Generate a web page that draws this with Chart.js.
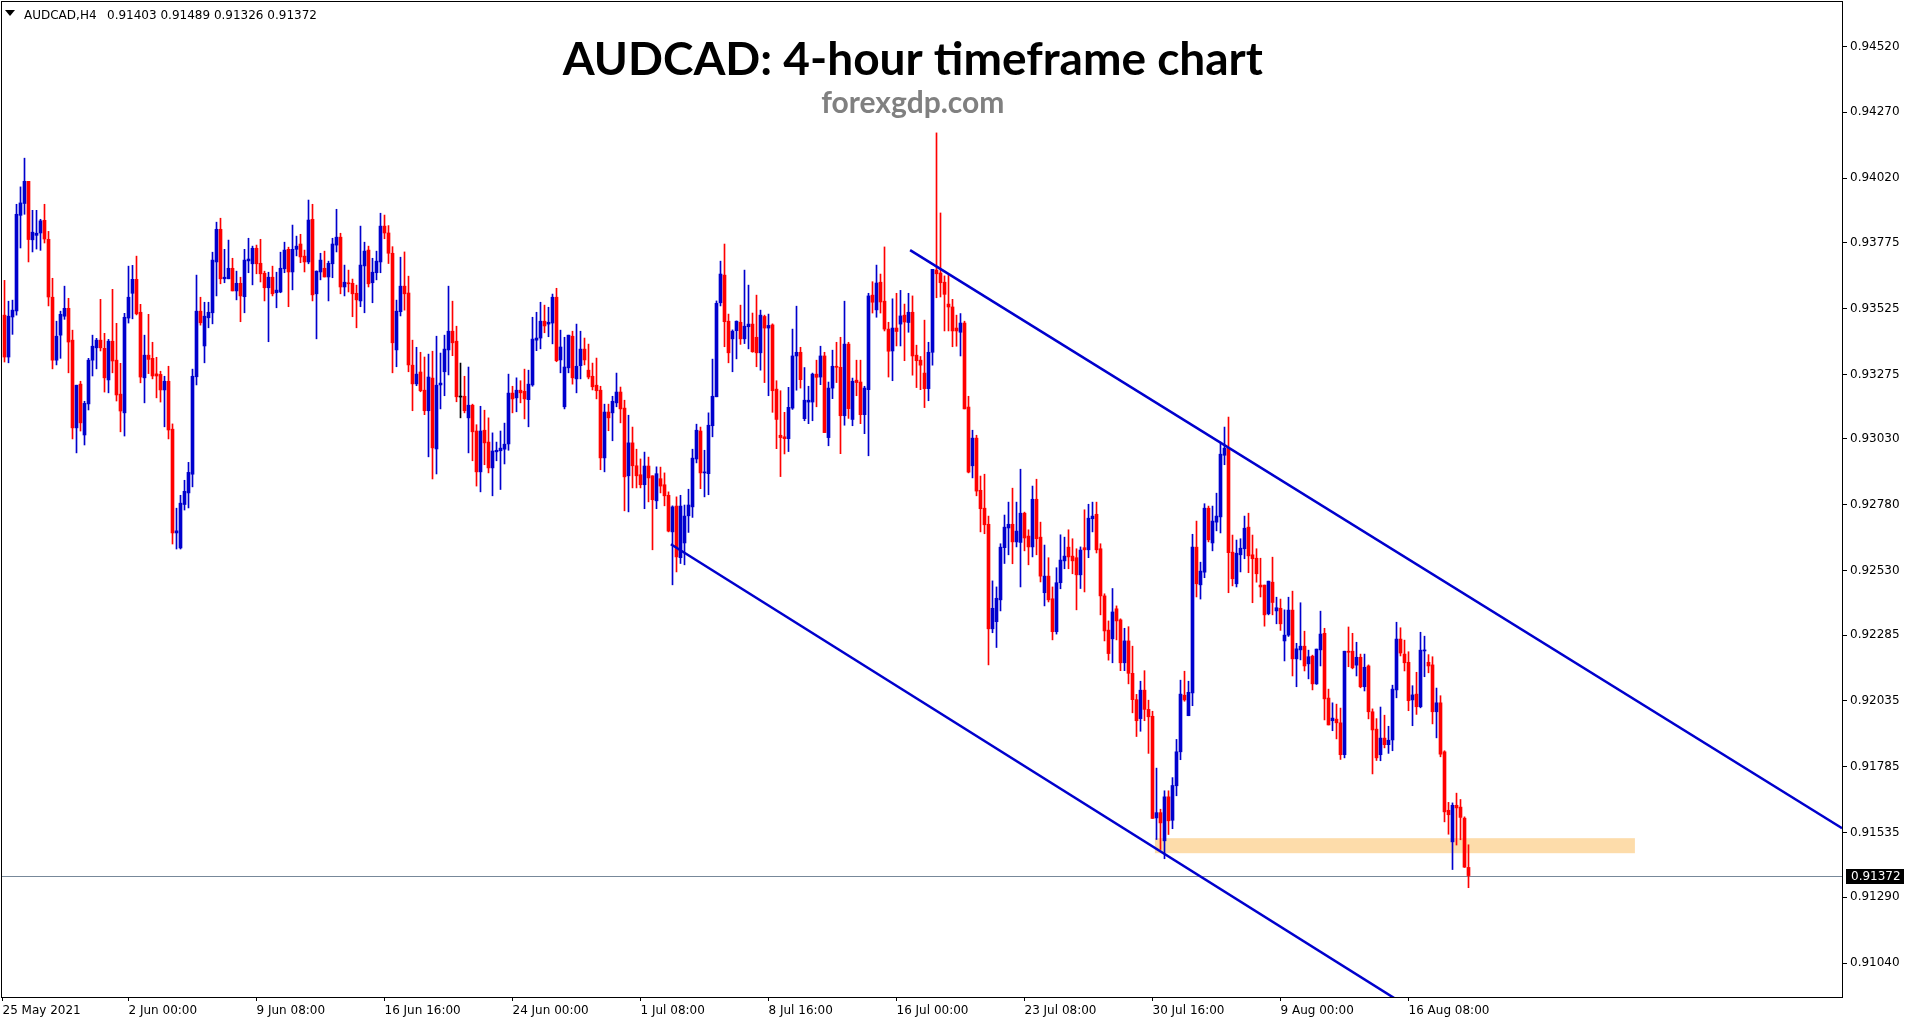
<!DOCTYPE html>
<html>
<head>
<meta charset="utf-8">
<title>AUDCAD H4</title>
<script src="https://cdn.jsdelivr.net/npm/chart.js@4.4.1/dist/chart.umd.min.js"></script>
<style>
  html, body { margin: 0; padding: 0; background: #fff; }
  canvas { display: block; }
</style>
</head>
<body>
<canvas id="chart" width="1913" height="1023"></canvas>
<script>
const symbolName = 'AUDCAD,H4';
const chartTitle = 'AUDCAD: 4-hour timeframe chart';
const chartSubtitle = 'forexgdp.com';

const opens = [
  0.93500,0.93341,0.93493,0.93516,0.93879,0.93924,0.94008,0.93786,0.93803,0.93812,
  0.93860,0.93788,0.93568,0.93329,0.93424,0.93496,0.93526,0.93405,0.93072,0.93238,
  0.93045,0.93163,0.93329,0.93376,0.93405,0.93374,0.93254,0.93401,0.93329,0.93200,
  0.93129,0.93489,0.93583,0.93636,0.93511,0.93262,0.93348,0.93336,0.93277,0.93275,
  0.93216,0.93249,0.93067,0.92673,0.92616,0.92781,0.92825,0.92896,0.93266,0.93515,
  0.93383,0.93490,0.93509,0.93702,0.93826,0.93638,0.93638,0.93678,0.93592,0.93621,
  0.93570,0.93706,0.93695,0.93754,0.93697,0.93659,0.93604,0.93644,0.93585,0.93588,
  0.93676,0.93750,0.93664,0.93750,0.93770,0.93724,0.93702,0.93864,0.93581,0.93664,
  0.93678,0.93645,0.93695,0.93766,0.93796,0.93607,0.93621,0.93621,0.93583,0.93554,
  0.93687,0.93747,0.93623,0.93661,0.93702,0.93838,0.93812,0.93735,0.93368,0.93513,
  0.93610,0.93584,0.93310,0.93239,0.93284,0.93215,0.93137,0.93261,0.92992,0.93235,
  0.93285,0.93368,0.93439,0.93401,0.93189,0.93192,0.93110,0.93158,0.93060,0.92905,
  0.93063,0.93018,0.92920,0.92981,0.92985,0.92991,0.93011,0.93204,0.93186,0.93215,
  0.93211,0.93179,0.93235,0.93405,0.93413,0.93477,0.93466,0.93470,0.93568,0.93330,
  0.93152,0.93300,0.93420,0.93258,0.93308,0.93371,0.93291,0.93268,0.93234,0.93215,
  0.92958,0.93132,0.93129,0.93167,0.93208,0.93147,0.92890,0.93015,0.92928,0.92894,
  0.92856,0.92927,0.92890,0.92795,0.92879,0.92856,0.92816,0.92677,0.92775,0.92579,
  0.92635,0.92738,0.92772,0.92954,0.93060,0.92901,0.92898,0.93080,0.93190,0.93547,
  0.93652,0.93477,0.93410,0.93441,0.93473,0.93410,0.93456,0.93466,0.93416,0.93357,
  0.93495,0.93451,0.93463,0.93219,0.93044,0.93038,0.93031,0.93147,0.93345,0.93359,
  0.93107,0.93170,0.93170,0.93276,0.93265,0.93345,0.93035,0.93223,0.93306,0.93302,
  0.93118,0.93390,0.93104,0.93253,0.93246,0.93122,0.93217,0.93576,0.93520,0.93625,
  0.93553,0.93447,0.93364,0.93451,0.93466,0.93500,0.93472,0.93511,0.93348,0.93329,
  0.93280,0.93221,0.93359,0.93671,0.93660,0.93625,0.93542,0.93531,0.93451,0.93435,
  0.93470,0.93151,0.92928,0.93033,0.92835,0.92767,0.92706,0.92309,0.92336,0.92419,
  0.92617,0.92692,0.92706,0.92639,0.92637,0.92748,0.92661,0.92620,0.92801,0.92657,
  0.92446,0.92509,0.92423,0.92298,0.92484,0.92567,0.92619,0.92585,0.92579,0.92514,
  0.92617,0.92609,0.92727,0.92744,0.92613,0.92434,0.92304,0.92271,0.92385,0.92343,
  0.92180,0.92263,0.92140,0.92040,0.91968,0.92076,0.92003,0.91977,0.91591,0.91611,
  0.91504,0.91671,0.91582,0.91713,0.91842,0.92057,0.91979,0.92066,0.92619,0.92476,
  0.92524,0.92767,0.92635,0.92714,0.92734,0.92968,0.92995,0.92600,0.92480,0.92590,
  0.92613,0.92695,0.92590,0.92577,0.92475,0.92475,0.92366,0.92486,0.92377,0.92387,
  0.92263,0.92285,0.92380,0.92195,0.92229,0.92243,0.92176,0.92205,0.92100,0.92229,
  0.92292,0.92046,0.91960,0.91966,0.91952,0.91831,0.92224,0.92224,0.92171,0.92201,
  0.92089,0.92168,0.91994,0.91928,0.91831,0.91894,0.91869,0.91887,0.92077,0.92270,
  0.92213,0.92182,0.92039,0.92061,0.92013,0.92225,0.92182,0.92172,0.91994,0.92028,
  0.91842,0.91620,0.91500,0.91639,0.91632,0.91590,0.91403
];
const highs = [
  0.93632,0.93553,0.93557,0.93921,0.93987,0.94096,0.94008,0.93898,0.93898,0.93864,
  0.93921,0.93818,0.93640,0.93477,0.93515,0.93610,0.93564,0.93443,0.93234,0.93249,
  0.93173,0.93336,0.93424,0.93412,0.93560,0.93431,0.93408,0.93598,0.93469,0.93317,
  0.93507,0.93686,0.93689,0.93724,0.93541,0.93424,0.93503,0.93397,0.93340,0.93287,
  0.93268,0.93306,0.93087,0.92767,0.92816,0.92873,0.92941,0.93295,0.93652,0.93568,
  0.93549,0.93549,0.93739,0.93853,0.93868,0.93750,0.93785,0.93716,0.93667,0.93644,
  0.93750,0.93792,0.93762,0.93766,0.93788,0.93667,0.93663,0.93686,0.93663,0.93739,
  0.93777,0.93758,0.93842,0.93800,0.93807,0.93747,0.93937,0.93921,0.93668,0.93735,
  0.93743,0.93705,0.93792,0.93902,0.93811,0.93690,0.93671,0.93637,0.93614,0.93838,
  0.93777,0.93762,0.93716,0.93743,0.93887,0.93880,0.93840,0.93760,0.93557,0.93720,
  0.93740,0.93648,0.93405,0.93378,0.93359,0.93341,0.93352,0.93363,0.93420,0.93356,
  0.93424,0.93610,0.93553,0.93458,0.93318,0.93268,0.93303,0.93162,0.93084,0.93154,
  0.93139,0.93110,0.93053,0.93018,0.93060,0.93090,0.93276,0.93230,0.93262,0.93251,
  0.93295,0.93291,0.93492,0.93511,0.93549,0.93538,0.93530,0.93580,0.93602,0.93443,
  0.93416,0.93424,0.93439,0.93466,0.93439,0.93413,0.93390,0.93318,0.93337,0.93230,
  0.93162,0.93162,0.93192,0.93280,0.93227,0.93177,0.93120,0.93075,0.92991,0.92954,
  0.92980,0.92961,0.92890,0.92924,0.92923,0.92901,0.92829,0.92776,0.92810,0.92816,
  0.92779,0.92839,0.92991,0.93086,0.93075,0.92987,0.93129,0.93333,0.93554,0.93705,
  0.93770,0.93504,0.93444,0.93478,0.93538,0.93671,0.93614,0.93508,0.93576,0.93519,
  0.93500,0.93504,0.93467,0.93251,0.93213,0.93131,0.93226,0.93447,0.93534,0.93378,
  0.93301,0.93230,0.93280,0.93329,0.93382,0.93359,0.93246,0.93367,0.93397,0.93416,
  0.93553,0.93397,0.93261,0.93329,0.93329,0.93230,0.93583,0.93627,0.93690,0.93656,
  0.93759,0.93473,0.93562,0.93583,0.93594,0.93542,0.93583,0.93573,0.93386,0.93343,
  0.93481,0.93397,0.93674,0.94192,0.93888,0.93649,0.93651,0.93560,0.93500,0.93506,
  0.93477,0.93192,0.93063,0.93044,0.92889,0.92896,0.92737,0.92491,0.92468,0.92632,
  0.92741,0.92790,0.92843,0.92790,0.92915,0.92752,0.92685,0.92851,0.92877,0.92714,
  0.92627,0.92579,0.92468,0.92541,0.92666,0.92657,0.92685,0.92651,0.92613,0.92620,
  0.92761,0.92782,0.92790,0.92790,0.92632,0.92442,0.92339,0.92462,0.92396,0.92347,
  0.92311,0.92317,0.92243,0.92060,0.92110,0.92150,0.92038,0.91996,0.91780,0.91624,
  0.91694,0.91694,0.91744,0.91889,0.92114,0.92148,0.92110,0.92668,0.92718,0.92562,
  0.92784,0.92775,0.92775,0.92824,0.93018,0.93075,0.93113,0.92665,0.92646,0.92651,
  0.92737,0.92748,0.92665,0.92613,0.92577,0.92475,0.92490,0.92581,0.92429,0.92422,
  0.92381,0.92429,0.92452,0.92254,0.92408,0.92300,0.92228,0.92209,0.92232,0.92376,
  0.92311,0.92080,0.92028,0.92023,0.92008,0.92224,0.92316,0.92292,0.92258,0.92213,
  0.92213,0.92172,0.92005,0.91968,0.92012,0.91981,0.91939,0.92095,0.92334,0.92313,
  0.92266,0.92222,0.92093,0.92144,0.92296,0.92281,0.92211,0.92203,0.92084,0.92055,
  0.91846,0.91650,0.91648,0.91685,0.91661,0.91595,0.91489
];
const lows = [
  0.93322,0.93319,0.93427,0.93500,0.93755,0.93883,0.93702,0.93740,0.93751,0.93746,
  0.93774,0.93535,0.93296,0.93311,0.93336,0.93484,0.93281,0.93030,0.92977,0.93060,
  0.93007,0.93140,0.93269,0.93296,0.93364,0.93208,0.93205,0.93281,0.93174,0.93057,
  0.93041,0.93470,0.93486,0.93501,0.93243,0.93167,0.93278,0.93258,0.93186,0.93170,
  0.93076,0.93030,0.92631,0.92612,0.92612,0.92760,0.92768,0.92848,0.93235,0.93462,
  0.93319,0.93452,0.93467,0.93573,0.93619,0.93623,0.93638,0.93592,0.93558,0.93475,
  0.93509,0.93661,0.93615,0.93657,0.93626,0.93554,0.93399,0.93573,0.93528,0.93585,
  0.93661,0.93532,0.93596,0.93725,0.93699,0.93664,0.93695,0.93554,0.93410,0.93634,
  0.93645,0.93554,0.93642,0.93740,0.93581,0.93573,0.93588,0.93494,0.93452,0.93532,
  0.93509,0.93607,0.93547,0.93634,0.93661,0.93790,0.93696,0.93281,0.93304,0.93497,
  0.93519,0.93285,0.93137,0.93232,0.93209,0.93122,0.92962,0.92878,0.92897,0.93144,
  0.93194,0.93273,0.93346,0.93171,0.93110,0.93129,0.92977,0.92947,0.92851,0.92829,
  0.92932,0.92901,0.92814,0.92947,0.92838,0.92935,0.92987,0.93129,0.93133,0.93167,
  0.93106,0.93076,0.93230,0.93365,0.93372,0.93433,0.93418,0.93391,0.93323,0.93281,
  0.93144,0.93281,0.93238,0.93205,0.93258,0.93311,0.93258,0.93216,0.93182,0.92913,
  0.92905,0.93061,0.93023,0.93152,0.93091,0.92757,0.92753,0.92844,0.92844,0.92844,
  0.92765,0.92791,0.92609,0.92765,0.92825,0.92776,0.92677,0.92476,0.92525,0.92557,
  0.92552,0.92675,0.92732,0.92939,0.92841,0.92810,0.92818,0.93038,0.93190,0.93535,
  0.93380,0.93319,0.93285,0.93334,0.93389,0.93392,0.93372,0.93359,0.93304,0.93291,
  0.93244,0.93194,0.93131,0.92993,0.92887,0.92973,0.92982,0.93142,0.93215,0.93223,
  0.93099,0.93088,0.93099,0.93152,0.93236,0.93054,0.93004,0.93183,0.93244,0.92974,
  0.93082,0.93108,0.93080,0.93194,0.93088,0.93050,0.92966,0.93508,0.93492,0.93508,
  0.93440,0.93265,0.93251,0.93383,0.93383,0.93327,0.93435,0.93272,0.93225,0.93217,
  0.93149,0.93175,0.93310,0.93566,0.93569,0.93440,0.93440,0.93380,0.93382,0.93345,
  0.93144,0.92901,0.92882,0.92814,0.92677,0.92670,0.92172,0.92294,0.92238,0.92377,
  0.92557,0.92590,0.92556,0.92620,0.92468,0.92605,0.92552,0.92582,0.92590,0.92487,
  0.92396,0.92411,0.92267,0.92289,0.92461,0.92537,0.92537,0.92518,0.92381,0.92462,
  0.92449,0.92579,0.92677,0.92597,0.92362,0.92263,0.92190,0.92180,0.92267,0.92150,
  0.92150,0.92100,0.91990,0.91900,0.91920,0.91960,0.91836,0.91589,0.91509,0.91471,
  0.91436,0.91528,0.91550,0.91675,0.91812,0.92034,0.91979,0.92017,0.92430,0.92422,
  0.92503,0.92639,0.92605,0.92681,0.92673,0.92932,0.92446,0.92472,0.92468,0.92525,
  0.92575,0.92522,0.92408,0.92486,0.92430,0.92319,0.92362,0.92362,0.92328,0.92303,
  0.92187,0.92280,0.92130,0.92089,0.92191,0.92149,0.92119,0.92077,0.92098,0.92168,
  0.91963,0.91944,0.91922,0.91891,0.91813,0.91819,0.92165,0.92157,0.92130,0.92085,
  0.92073,0.91967,0.91758,0.91809,0.91808,0.91857,0.91836,0.91846,0.92047,0.92206,
  0.92149,0.91998,0.91941,0.91984,0.92009,0.92127,0.92142,0.91948,0.91895,0.91823,
  0.91576,0.91529,0.91395,0.91488,0.91508,0.91403,0.91326
];
const closes = [
  0.93341,0.93496,0.93519,0.93883,0.93926,0.94008,0.93787,0.93815,0.93811,0.93858,
  0.93789,0.93569,0.93329,0.93420,0.93503,0.93526,0.93398,0.93072,0.93234,0.93091,
  0.93165,0.93329,0.93382,0.93405,0.93376,0.93262,0.93401,0.93326,0.93197,0.93136,
  0.93492,0.93568,0.93636,0.93505,0.93265,0.93348,0.93332,0.93269,0.93269,0.93216,
  0.93249,0.93064,0.92673,0.92681,0.92786,0.92831,0.92903,0.93268,0.93515,0.93471,
  0.93496,0.93511,0.93709,0.93826,0.93638,0.93644,0.93678,0.93592,0.93621,0.93573,
  0.93709,0.93713,0.93754,0.93695,0.93657,0.93604,0.93644,0.93581,0.93595,0.93678,
  0.93747,0.93664,0.93750,0.93762,0.93721,0.93702,0.93861,0.93577,0.93667,0.93709,
  0.93645,0.93697,0.93770,0.93796,0.93607,0.93625,0.93619,0.93581,0.93558,0.93690,
  0.93743,0.93619,0.93663,0.93705,0.93838,0.93812,0.93735,0.93395,0.93515,0.93610,
  0.93581,0.93311,0.93239,0.93276,0.93213,0.93137,0.93265,0.92996,0.93234,0.93242,
  0.93371,0.93439,0.93395,0.93190,0.93189,0.93137,0.93158,0.93057,0.92905,0.93060,
  0.93015,0.92920,0.92984,0.92987,0.92995,0.93010,0.93204,0.93182,0.93215,0.93205,
  0.93182,0.93238,0.93409,0.93413,0.93477,0.93459,0.93473,0.93568,0.93327,0.93379,
  0.93303,0.93424,0.93262,0.93306,0.93371,0.93330,0.93265,0.93228,0.93213,0.92958,
  0.93132,0.93110,0.93173,0.93208,0.93144,0.92886,0.93015,0.92928,0.92890,0.92856,
  0.92927,0.92882,0.92799,0.92898,0.92851,0.92814,0.92680,0.92772,0.92582,0.92775,
  0.92737,0.92779,0.92957,0.93063,0.92901,0.92904,0.93082,0.93192,0.93545,0.93656,
  0.93475,0.93357,0.93439,0.93477,0.93410,0.93458,0.93466,0.93361,0.93357,0.93500,
  0.93451,0.93461,0.93213,0.93104,0.93035,0.93031,0.93150,0.93345,0.93359,0.93255,
  0.93177,0.93177,0.93276,0.93264,0.93345,0.93054,0.93223,0.93306,0.93302,0.93118,
  0.93390,0.93145,0.93249,0.93244,0.93122,0.93223,0.93573,0.93549,0.93622,0.93550,
  0.93447,0.93363,0.93451,0.93438,0.93497,0.93474,0.93511,0.93345,0.93327,0.93310,
  0.93221,0.93359,0.93674,0.93657,0.93623,0.93579,0.93531,0.93440,0.93440,0.93470,
  0.93144,0.92904,0.93033,0.92832,0.92765,0.92704,0.92309,0.92387,0.92425,0.92619,
  0.92695,0.92706,0.92639,0.92680,0.92748,0.92654,0.92620,0.92801,0.92651,0.92509,
  0.92509,0.92419,0.92298,0.92484,0.92570,0.92585,0.92582,0.92567,0.92514,0.92608,
  0.92609,0.92729,0.92737,0.92609,0.92434,0.92301,0.92215,0.92373,0.92339,0.92180,
  0.92263,0.92140,0.92040,0.91960,0.92076,0.92003,0.91975,0.91589,0.91611,0.91572,
  0.91671,0.91580,0.91714,0.91842,0.92061,0.92039,0.92068,0.92619,0.92480,0.92528,
  0.92767,0.92647,0.92718,0.92737,0.92972,0.92995,0.92598,0.92499,0.92596,0.92615,
  0.92691,0.92586,0.92575,0.92518,0.92468,0.92362,0.92490,0.92409,0.92389,0.92328,
  0.92285,0.92380,0.92195,0.92233,0.92243,0.92168,0.92203,0.92100,0.92232,0.92289,
  0.92043,0.91944,0.91970,0.91952,0.91831,0.92224,0.92220,0.92161,0.92201,0.92089,
  0.92163,0.91994,0.91925,0.91819,0.91894,0.91869,0.91886,0.92080,0.92270,0.92217,
  0.92180,0.92036,0.92058,0.92013,0.92228,0.92228,0.92168,0.91994,0.92028,0.91833,
  0.91614,0.91603,0.91639,0.91629,0.91593,0.91404,0.91372
];

// bar index where each time label sits on the axis
const xTickIdx = [-0.5, 31, 63, 95, 127, 159, 191, 223, 255, 287, 319, 351];
const xTickLabels = ['25 May 2021', '2 Jun 00:00', '9 Jun 08:00', '16 Jun 16:00', '24 Jun 00:00', '1 Jul 08:00',
  '8 Jul 16:00', '16 Jul 00:00', '23 Jul 08:00', '30 Jul 16:00', '9 Aug 00:00', '16 Aug 08:00'];
const yTicks = [0.91040, 0.91290, 0.91535, 0.91785, 0.92035, 0.92285, 0.92530, 0.92780,
  0.93030, 0.93275, 0.93525, 0.93775, 0.94020, 0.94270, 0.94520];

// channel lines: [bar index, price]
const upperChannel = [[226.4, 0.93747], [459.4, 0.91552]];
const lowerChannel = [[166.6, 0.92630], [348.9, 0.90893]];
// support zone: from bar, to bar, low price, high price
const supportZone = [287.6, 407.6, 0.91457, 0.91514];

const bullColor = '#0000CD';
const bearColor = '#FF0000';
const dojiColor = '#000000';

const candleColors = opens.map((o, i) => closes[i] > o ? bullColor : (closes[i] < o ? bearColor : dojiColor));
const bodyData = opens.map((o, i) => ({ x: i, y: [Math.min(o, closes[i]), Math.max(o, closes[i])] }));
const wickData = opens.map((o, i) => ({ x: i, y: [lows[i], highs[i]] }));

const overlay = {
  id: 'overlay',
  beforeDatasetsDraw(chart) {
    const { ctx, chartArea: a, scales: { x, y } } = chart;
    ctx.save();
    ctx.beginPath();
    ctx.rect(a.left, a.top, a.right - a.left, a.bottom - a.top);
    ctx.clip();
    const zx0 = x.getPixelForValue(supportZone[0]);
    const zx1 = x.getPixelForValue(supportZone[1]);
    const zy0 = y.getPixelForValue(supportZone[3]);
    const zy1 = y.getPixelForValue(supportZone[2]);
    ctx.fillStyle = '#FDDCAA';
    ctx.fillRect(zx0, zy0, zx1 - zx0, zy1 - zy0);
    const last = closes[closes.length - 1];
    const py = Math.round(y.getPixelForValue(last)) + 0.5;
    ctx.strokeStyle = '#778899';
    ctx.lineWidth = 1;
    ctx.beginPath();
    ctx.moveTo(a.left, py);
    ctx.lineTo(a.right, py);
    ctx.stroke();
    ctx.restore();
  },
  afterDraw(chart) {
    const { ctx, chartArea: a, scales: { y } } = chart;
    const n = closes.length;
    ctx.save();
    ctx.strokeStyle = '#000';
    ctx.lineWidth = 1;
    ctx.strokeRect(a.left - 0.5, a.top - 0.5, a.right - a.left + 1, a.bottom - a.top + 1);

    // last price tag
    const last = closes[n - 1];
    const ly = Math.round(y.getPixelForValue(last));
    ctx.fillStyle = '#000';
    ctx.fillRect(a.right + 4, ly - 7, 58, 15);
    ctx.fillStyle = '#fff';
    ctx.font = '12px "DejaVu Sans"';
    ctx.textAlign = 'left';
    ctx.textBaseline = 'middle';
    ctx.fillText(last.toFixed(5), a.right + 9, ly + 0.5);

    // header line
    ctx.fillStyle = '#000';
    ctx.beginPath();
    ctx.moveTo(5, 10);
    ctx.lineTo(15, 10);
    ctx.lineTo(10, 16);
    ctx.closePath();
    ctx.fill();
    ctx.textBaseline = 'alphabetic';
    ctx.fillText(symbolName, 24, 19);
    const ohlc = [opens[n - 1], highs[n - 1], lows[n - 1], closes[n - 1]].map(v => v.toFixed(5)).join(' ');
    ctx.fillText(ohlc, 107, 19);

    // title
    const cx = a.left + (a.right - a.left) * 0.495;
    ctx.textAlign = 'center';
    ctx.fillStyle = '#000';
    ctx.font = 'bold 46px Lato';
    ctx.fillText(chartTitle, cx, 75);
    ctx.fillStyle = '#808080';
    ctx.font = 'bold 30px Lato';
    ctx.fillText(chartSubtitle, cx, 113);
    ctx.restore();
  }
};

Chart.defaults.font.family = '"DejaVu Sans", sans-serif';
Chart.defaults.font.size = 12;
Chart.defaults.color = '#000';

new Chart(document.getElementById('chart'), {
  type: 'bar',
  data: {
    datasets: [
      {
        data: bodyData,
        backgroundColor: candleColors,
        borderWidth: 0,
        barThickness: 3,
        minBarLength: 1,
        grouped: false,
        order: 1
      },
      {
        data: wickData,
        backgroundColor: candleColors,
        borderWidth: 0,
        barThickness: 1,
        grouped: false,
        order: 2
      },
      {
        type: 'line',
        data: upperChannel.map(p => ({ x: p[0], y: p[1] })),
        borderColor: bullColor,
        borderWidth: 2.5,
        pointRadius: 0,
        clip: 0,
        order: 0
      },
      {
        type: 'line',
        data: lowerChannel.map(p => ({ x: p[0], y: p[1] })),
        borderColor: bullColor,
        borderWidth: 2.5,
        pointRadius: 0,
        clip: 0,
        order: 0
      }
    ]
  },
  options: {
    responsive: false,
    animation: false,
    layout: { padding: { left: 2, top: 2, right: 0, bottom: 0 } },
    plugins: {
      legend: { display: false },
      tooltip: { enabled: false },
      title: { display: false }
    },
    scales: {
      x: {
        type: 'linear',
        min: -0.625,
        max: 459.375,
        offset: false,
        bounds: 'data',
        border: { display: false },
        grid: { drawOnChartArea: false, offset: false, tickLength: 4, color: '#000' },
        ticks: {
          autoSkip: false,
          maxRotation: 0,
          minRotation: 0,
          align: 'start',
          padding: 3,
          callback: (v, i) => xTickLabels[i]
        },
        afterBuildTicks: scale => { scale.ticks = xTickIdx.map(v => ({ value: v })); },
        afterFit: scale => {
          scale.height = 26;
          scale.paddingLeft = 0;
          scale.paddingRight = 0;
        }
      },
      y: {
        type: 'linear',
        position: 'right',
        min: 0.90911,
        max: 0.94689,
        bounds: 'data',
        beginAtZero: false,
        border: { display: false },
        grid: { drawOnChartArea: false, tickLength: 5, color: '#000' },
        ticks: {
          padding: 3,
          callback: v => v.toFixed(5)
        },
        afterBuildTicks: scale => { scale.ticks = yTicks.map(v => ({ value: v })); },
        afterFit: scale => {
          scale.width = 71;
          scale.paddingTop = 0;
          scale.paddingBottom = 0;
        }
      }
    }
  },
  plugins: [overlay]
});
</script>
</body>
</html>
